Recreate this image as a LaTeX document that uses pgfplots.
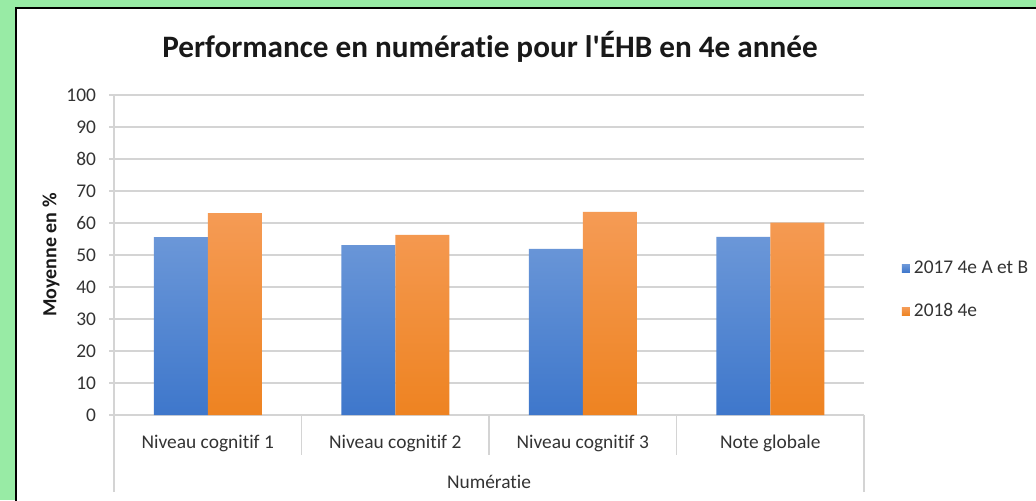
\documentclass[border=0pt]{standalone}
\usepackage{pgfplots}
\pgfplotsset{compat=1.18}
\usepackage{fontspec}
\setmainfont{Carlito}[Ligatures=TeXOff,RawFeature={-liga;-clig;-calt;-dlig;-rlig}]
\definecolor{bggreen}{HTML}{98EBA5}
\definecolor{gridc}{HTML}{D4D4D4}
\definecolor{txt}{HTML}{333333}
\definecolor{btop}{HTML}{6B97D8}
\definecolor{bbot}{HTML}{3E77CB}
\definecolor{otop}{HTML}{F59B55}
\definecolor{obot}{HTML}{EE8321}
\begin{document}
\begin{tikzpicture}
\useasboundingbox (0,0) rectangle (518pt,250pt);
\clip (0,0) rectangle (518pt,250pt);
\fill[bggreen] (0,0) rectangle (518pt,250pt);
\fill[white] (8pt,-10pt) rectangle (530pt,246pt);
\draw[black,line width=1.3pt] (8pt,-10pt) -- (8pt,246pt) -- (530pt,246pt);
\node[font=\bfseries\fontsize{15.6}{19}\selectfont,text=black!90] at (245pt,226.5pt) {Performance en numératie pour l'ÉHB en 4e année};
\node[font=\bfseries\fontsize{10}{12}\selectfont,text=black!90,rotate=90] at (25.5pt,122.5pt) {Moyenne en \%};
\begin{axis}[
  at={(57pt,42.5pt)}, anchor=south west,
  width=375pt, height=160pt, scale only axis,
  xmin=-0.5, xmax=3.5, ymin=0, ymax=100,
  ytick={0,10,...,100},
  xtick={0,1,2,3},
  xticklabels={Niveau cognitif 1,Niveau cognitif 2,Niveau cognitif 3,Note globale},
  x tick style={draw=none},
  y tick style={draw=gridc,line width=0.8pt},
  tick align=outside,
  major tick length=2.5pt,
  ymajorgrids,
  grid style={draw=gridc,line width=0.8pt},
  axis x line*=bottom, axis y line*=left,
  axis line style={draw=gridc,line width=0.8pt,-},
  ticklabel style={font=\fontsize{9.7}{12}\selectfont,text=txt},
  /pgf/number format/assume math mode=true,
  xticklabel style={yshift=-4pt},
  yticklabel style={xshift=-3pt},
  ybar=0pt, bar width=27pt,
  legend style={at={(1.05,0.39)},anchor=west,draw=none,fill=none,
    font=\fontsize{9.7}{12}\selectfont,text=txt,row sep=9.5pt,inner sep=0pt},
  legend cell align=left,
  legend image code/.code={\path[#1,draw=none] (0pt,-2pt) rectangle (4pt,2pt);},
]
\addplot[draw=none,top color=btop,bottom color=bbot] coordinates {(0,55.6) (1,53.1) (2,51.9) (3,55.7)};
\addplot[draw=none,top color=otop,bottom color=obot] coordinates {(0,63.1) (1,56.3) (2,63.5) (3,60.1)};
\legend{2017 4e A et B,2018 4e}
\end{axis}
\draw[gridc,line width=0.8pt] (57pt,42.5pt) -- (57pt,4pt);
\draw[gridc,line width=0.8pt] (432pt,42.5pt) -- (432pt,4pt);
\foreach \k in {1,2,3} {\draw[gridc,line width=0.8pt] ({57pt+93.75pt*\k},42.5pt) -- ({57pt+93.75pt*\k},22.5pt);}
\node[font=\fontsize{9.7}{12}\selectfont,text=txt] at (244.5pt,9pt) {Numératie};
\end{tikzpicture}
\end{document}
